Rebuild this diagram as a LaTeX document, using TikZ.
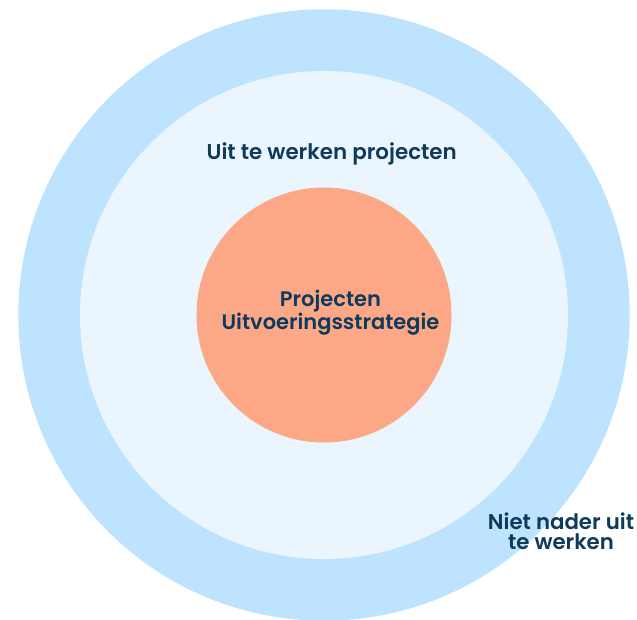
\documentclass[tikz,border=0pt]{standalone}
\usepackage{fontspec}
\newfontfamily\ringfont{Poppins SemiBold}
\definecolor{outerblue}{HTML}{BDE3FE}
\definecolor{midblue}{HTML}{EAF5FE}
\definecolor{coreorange}{HTML}{FCA886}
\definecolor{textblue}{HTML}{0E3A5B}
\begin{document}
\begin{tikzpicture}[x=1pt,y=-1pt]
	\begin{scope}[scale=1]
	
	\tikzstyle{ring}=[circle,
	draw=none,
	inner sep=0pt
	]
	\tikzstyle{ringlabel}=[text=textblue,
	align=center,
	inner sep=0pt,
	font=\ringfont\fontsize{21}{19.8}\selectfont
	]
	
	\useasboundingbox (0,0) rectangle (637,619);
	
	\coordinate (pc) at (324, 315);
	\coordinate (pl1) at (330.5, 313);
	\coordinate (pl2) at (331.7, 153.5);
	\coordinate (pl3) at (561, 531.5);
	
	\node[ring, fill=outerblue, minimum size=611.4pt] (outer) at (pc) {};
	\node[ring, fill=midblue, minimum size=488pt] (middle) at (pc) {};
	\node[ring, fill=coreorange, minimum size=255pt] (core) at (pc) {};
	
	\node[ringlabel] (corelabel) at (pl1) {Projecten\\Uitvoeringsstrategie};
	\node[ringlabel, font=\ringfont\fontsize{21.4}{22}\selectfont] (middlelabel) at (pl2) {Uit te werken projecten};
	\node[ringlabel, font=\ringfont\fontsize{21.3}{20}\selectfont] (outerlabel) at (pl3) {Niet nader uit\\te werken};
	
	\end{scope}
\end{tikzpicture}
\end{document}
